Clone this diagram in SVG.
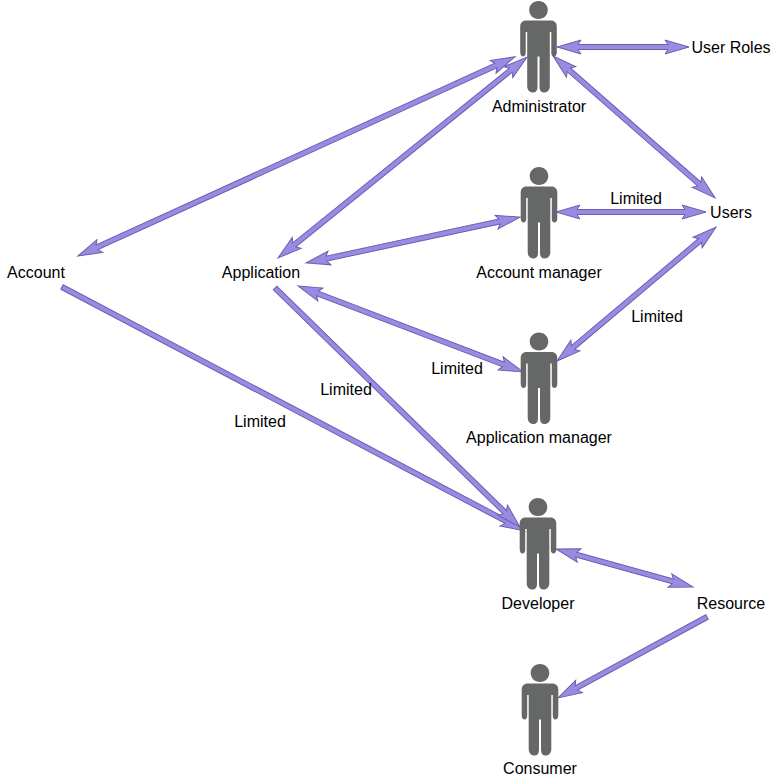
<svg xmlns="http://www.w3.org/2000/svg" width="776" height="784" viewBox="0 0 776 784">
<style>
text{font-family:"Liberation Sans",Arial,sans-serif;font-size:16px;fill:#000;text-anchor:middle}
.a{fill:#9a8ae2;stroke:#6a5fb0;stroke-width:1;stroke-linejoin:miter}
.p{fill:#666868}
</style>
<defs>
<path id="person" d="M0 0C5.500 0 9.300 4 9.300 9C9.300 14 5.500 18 0 18C-5.500 18 -9.300 14 -9.300 9C-9.300 4 -5.500 0 0 0ZM-12.500 19.500H12.500C16 19.500 18.300 22 18.300 25.500V51C18.300 54 17 55.500 15.500 55.500C14 55.500 12.800 54 12.800 52V31H11.300V85C11.300 89 9 91.500 5.500 91.500C2.500 91.500 1 89.500 1 86V55.500H-1V86C-1 89.500 -2.500 91.500 -5.500 91.500C-9 91.500 -11.300 89 -11.300 85V31H-12.800V52C-12.800 54 -14 55.500 -15.500 55.500C-17 55.500 -18.300 54 -18.300 51V25.500C-18.300 22 -16 19.500 -12.500 19.500Z"/>
</defs>
<g id="connectors">
<path class="a" d="M0 0L24 -7L21 -2.500L111 -2.500L108 -7L132 0L108 7L111 2.500L21 2.500L24 7Z" transform="translate(557,47)"/>
<path class="a" d="M0 0L24 -7L21 -2.500L194.400 -2.500L191.400 -7L215.400 0L191.400 7L194.400 2.500L21 2.500L24 7Z" transform="translate(553,56) rotate(41.2)"/>
<path class="a" d="M0 0L24 -7L21 -2.500L459.200 -2.500L456.200 -7L480.200 0L456.200 7L459.200 2.500L21 2.500L24 7Z" transform="translate(78,256) rotate(-24.5)"/>
<path class="a" d="M0 0L24 -7L21 -2.500L299 -2.500L296 -7L320 0L296 7L299 2.500L21 2.500L24 7Z" transform="translate(278,258) rotate(-38.9)"/>
<path class="a" d="M0 0L24 -7L21 -2.500L129 -2.500L126 -7L150 0L126 7L129 2.500L21 2.500L24 7Z" transform="translate(556,212)"/>
<path class="a" d="M0 0L24 -7L21 -2.500L197.900 -2.500L194.900 -7L218.900 0L194.900 7L197.900 2.500L21 2.500L24 7Z" transform="translate(306,263) rotate(-12.1)"/>
<path class="a" d="M0 0L24 -7L21 -2.500L186.900 -2.500L183.900 -7L207.900 0L183.900 7L186.900 2.500L21 2.500L24 7Z" transform="translate(557,361) rotate(-40.1)"/>
<path class="a" d="M0 0L24 -7L21 -2.500L219.900 -2.500L216.900 -7L240.900 0L216.900 7L219.900 2.500L21 2.500L24 7Z" transform="translate(298,286) rotate(20.9)"/>
<path class="a" d="M0 -2.500L502 -2.500L499 -7L523 0L499 7L502 2.500L0 2.500Z" transform="translate(62,287) rotate(27.8)"/>
<path class="a" d="M0 -2.500L321 -2.500L318 -7L342 0L318 7L321 2.500L0 2.500Z" transform="translate(275,288) rotate(44.3)"/>
<path class="a" d="M0 0L24 -7L21 -2.500L121.200 -2.500L118.200 -7L142.200 0L118.200 7L121.200 2.500L21 2.500L24 7Z" transform="translate(556,549) rotate(15.500)"/>
<path class="a" d="M0 -2.500L148.600 -2.500L145.600 -7L169.600 0L145.600 7L148.600 2.500L0 2.500Z" transform="translate(707,617) rotate(151.500)"/>
</g>
<g id="administrator"><use href="#person" class="p" x="538.500" y="1"/><text x="539" y="112">Administrator</text></g>
<g id="account-manager"><use href="#person" class="p" x="539" y="167"/><text x="539" y="278">Account manager</text></g>
<g id="application-manager"><use href="#person" class="p" x="539" y="332.500"/><text x="539" y="443">Application manager</text></g>
<g id="developer"><use href="#person" class="p" x="538" y="498"/><text x="538" y="609">Developer</text></g>
<g id="consumer"><use href="#person" class="p" x="540" y="664"/><text x="540" y="774">Consumer</text></g>
<g id="user-roles"><text x="731" y="53">User Roles</text></g>
<g id="users"><text x="731" y="218">Users</text></g>
<g id="account"><text x="36" y="278">Account</text></g>
<g id="application"><text x="261" y="278">Application</text></g>
<g id="resource"><text x="731" y="609">Resource</text></g>
<g id="labels">
<text x="636" y="204">Limited</text>
<text x="657" y="322">Limited</text>
<text x="457" y="374">Limited</text>
<text x="346" y="395">Limited</text>
<text x="260" y="427">Limited</text>
</g>
</svg>
